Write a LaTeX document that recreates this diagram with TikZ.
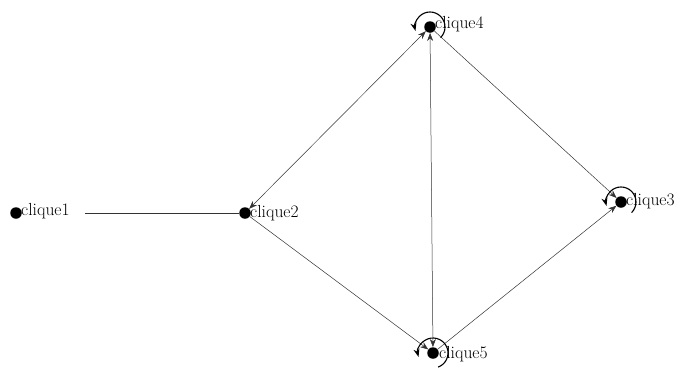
\documentclass[tikz,border=0pt]{standalone}
\usetikzlibrary{arrows.meta}
\begin{document}
\begin{tikzpicture}[x=1pt,y=-1pt,
  dot/.style={circle,fill=black,inner sep=0pt,minimum size=11.5pt},
  lbl/.style={anchor=west,inner sep=0pt,font=\fontsize{17.5}{19}\selectfont},
  edge/.style={draw=black!80,line width=0.5pt},
  tip/.tip={Stealth[length=8pt,width=6pt]},
  arr/.style={-tip},
  loopline/.style={draw=black,line width=1.1pt,-{Stealth[length=8pt,width=6pt]}}]
\useasboundingbox (0,0) rectangle (694,370);
\node[dot] (c1) at (16,213) {};
\node[dot] (c2) at (245,213) {};
\node[dot] (c4) at (430,27) {};
\node[dot] (c3) at (621,202) {};
\node[dot] (c5) at (433,353) {};
\node[lbl] (l1) at (21,211) {clique1};
\node[lbl] (l2) at (250,213) {clique2};
\node[lbl] (l4) at (435,24) {clique4};
\node[lbl] (l3) at (626,201) {clique3};
\node[lbl] (l5) at (439,354) {clique5};
\coordinate (c1e) at (85,213);
% edges
\draw[edge,line width=0.7pt] (c1e) -- (c2);
\draw[edge,tip-tip] (c2) -- (c4);
\draw[edge,tip-tip] (c4) -- (c5);
\draw[edge,arr] (c2) -- (c5);
\draw[edge,arr] (c4) -- (c3);
\draw[edge,arr] (c5) -- (c3);
% self loops
\draw[loopline] ([shift={(45:15)}]c4.center) arc[start angle=45,end angle=-195,radius=15];
\draw[loopline] ([shift={(45:15)}]c3.center) arc[start angle=45,end angle=-195,radius=15];
\draw[loopline] ([shift={(70:15)}]c5.center) arc[start angle=70,end angle=-195,radius=15];
\end{tikzpicture}
\end{document}
